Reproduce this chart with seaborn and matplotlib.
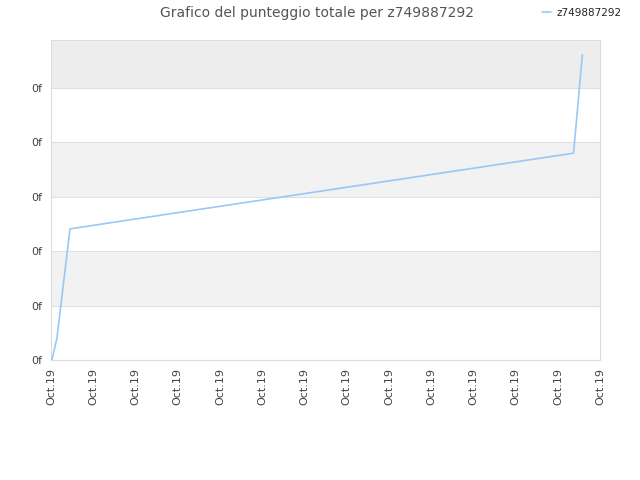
import seaborn as sns
import matplotlib.pyplot as plt
import pandas as pd

# data (x in tick units, y in band units)
giorni = [0.02, 0.14, 0.45, 12.37, 12.58]
punteggio = [0.0, 0.40, 2.41, 3.80, 5.61]
tick_pos = list(range(14))
tick_lab = ["Oct.19"] * 14
y_ticks = [0, 1, 2, 3, 4, 5]
y_lab = ["0f"] * 6
utente = "z749887292"

df = pd.DataFrame({"x": giorni, "y": punteggio, "utente": utente})

sns.set_style("white")
plt.rcParams['font.family'] = ['DejaVu Sans']

fig = plt.figure(figsize=(6.4, 4.8), dpi=100)
ax = fig.add_axes([0.0797, 0.25, 0.858, 0.6667])

ymax = 5.88
# alternating bands
for i in range(5):
    if i % 2 == 1:
        ax.axhspan(i, i + 1, color="#f2f2f2", zorder=0, lw=0)
ax.axhspan(5, ymax, color="#ededed", zorder=0, lw=0)

sns.lineplot(data=df, x="x", y="y", hue="utente", palette=["#99c8f5"],
             linewidth=1.2, ax=ax, zorder=3)

ax.set_xlim(0, 13)
ax.set_ylim(0, ymax)
ax.set_xticks(tick_pos)
ax.set_xticklabels(tick_lab, rotation=90, fontsize=8, color="#444444")
ax.set_yticks(y_ticks)
ax.set_yticklabels(y_lab, fontsize=8, color="#444444")
ax.tick_params(length=0, pad=6)
ax.yaxis.grid(True, color="#e0e0e0", linewidth=0.8)
ax.set_axisbelow(True)
for s in ax.spines.values():
    s.set_color("#dddddd")
ax.set_xlabel("")
ax.set_ylabel("")

ax.legend(loc="upper right", bbox_to_anchor=(1.047, 1.113), frameon=False,
          fontsize=7.5, handlelength=0.9, handletextpad=0.5, borderaxespad=0)
fig.suptitle("Grafico del punteggio totale per z749887292", x=0.495, y=0.988,
             fontsize=10, color="#555555")

plt.savefig("out.png", dpi=100)
